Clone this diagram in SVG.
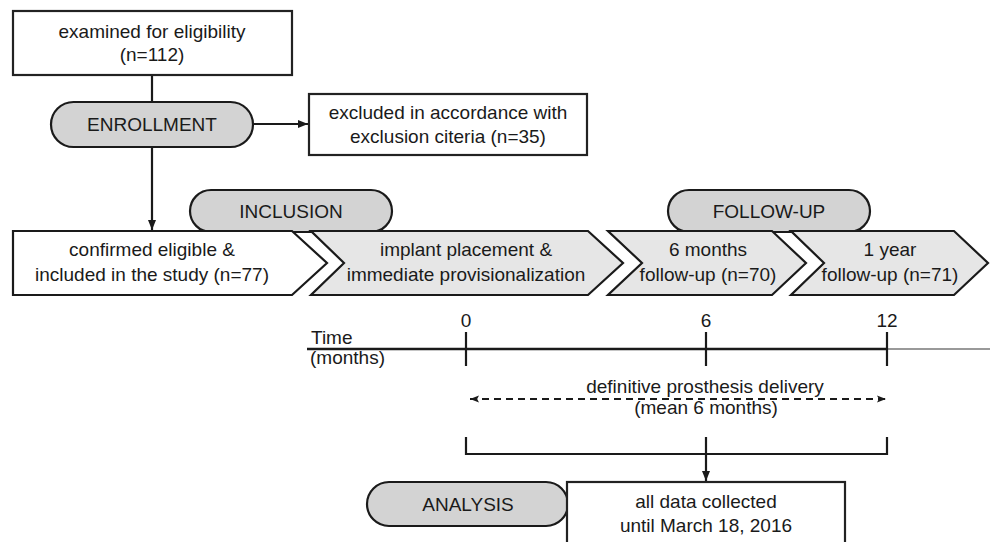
<svg xmlns="http://www.w3.org/2000/svg" width="990" height="542" viewBox="0 0 990 542">
<defs>
<style>
text{font-family:"Liberation Sans",Arial,sans-serif;font-size:19px;fill:#1a1a1a;text-anchor:middle}
.box{fill:#fff;stroke:#222;stroke-width:2.2}
.pill{fill:#d3d3d3;stroke:#1a1a1a;stroke-width:2.2}
.chev{fill:#e6e6e6;stroke:#1a1a1a;stroke-width:2.2;stroke-linejoin:miter}
.chevw{fill:#fff;stroke:#1a1a1a;stroke-width:2.2}
.ln{stroke:#1a1a1a;stroke-width:2.2;fill:none}
.tick{stroke:#1a1a1a;stroke-width:2.2}
</style>
<marker id="arr" viewBox="0 0 10 8" refX="10" refY="4" markerWidth="10" markerHeight="8" markerUnits="userSpaceOnUse" orient="auto">
<path d="M0,0 L10,4 L0,8 Z" fill="#1a1a1a"/>
</marker>
<marker id="arrs" viewBox="0 0 10 8" refX="10" refY="4" markerWidth="9" markerHeight="8" markerUnits="userSpaceOnUse" orient="auto-start-reverse">
<path d="M0,0 L10,4 L0,8 L2,4 Z" fill="#1a1a1a"/>
</marker>
</defs>
<rect width="990" height="542" fill="#fff"/>

<g id="connectors">
<line class="ln" x1="152" y1="75" x2="152" y2="102"/>
<line class="ln" x1="152" y1="147" x2="152" y2="230" marker-end="url(#arr)"/>
<line class="ln" x1="253" y1="124" x2="308" y2="124" marker-end="url(#arr)"/>
<line class="ln" x1="706" y1="454" x2="706" y2="481" marker-end="url(#arr)"/>
</g>

<g id="examined">
<rect class="box" x="13" y="11" width="279" height="64"/>
<text x="152" y="38">examined for eligibility</text>
<text x="152" y="61">(n=112)</text>
</g>

<g id="enrollment">
<rect class="pill" x="51" y="102" width="202" height="45" rx="22.5"/>
<text x="152" y="131">ENROLLMENT</text>
</g>

<g id="excluded">
<rect class="box" x="309" y="94" width="278" height="61"/>
<text x="448" y="119">excluded in accordance with</text>
<text x="448" y="143">exclusion citeria (n=35)</text>
</g>

<g id="inclusion">
<rect class="pill" x="190" y="190" width="202" height="42" rx="21"/>
<text x="291" y="218">INCLUSION</text>
</g>

<g id="followup">
<rect class="pill" x="668" y="190" width="202" height="42" rx="21"/>
<text x="769" y="218">FOLLOW-UP</text>
</g>

<g id="confirmed">
<polygon class="chevw" points="13,231 292,231 327,263 292,295 13,295"/>
<text x="152" y="256">confirmed eligible &amp;</text>
<text x="152" y="281">included in the study (n=77)</text>
</g>

<g id="implant">
<polygon class="chev" points="311,231 588,231 623,263 588,295 311,295 344,263"/>
<text x="466" y="256">implant placement &amp;</text>
<text x="466" y="281">immediate provisionalization</text>
</g>

<g id="sixmonths">
<polygon class="chev" points="608,231 772,231 806,263 772,295 608,295 642,263"/>
<text x="708" y="256">6 months</text>
<text x="708" y="281">follow-up (n=70)</text>
</g>

<g id="oneyear">
<polygon class="chev" points="791,231 954,231 988,263 954,295 791,295 824,263"/>
<text x="890" y="256">1 year</text>
<text x="890" y="281">follow-up (n=71)</text>
</g>

<g id="timeline">
<line x1="887" y1="349" x2="990" y2="349" stroke="#999" stroke-width="2.2"/>
<line x1="307" y1="349" x2="888" y2="349" stroke="#1a1a1a" stroke-width="2.6"/>
<line class="tick" x1="466" y1="332" x2="466" y2="366"/>
<line class="tick" x1="706" y1="332" x2="706" y2="366"/>
<line class="tick" x1="887" y1="332" x2="887" y2="366"/>
<text x="466" y="327">0</text>
<text x="706" y="327">6</text>
<text x="887" y="327">12</text>
<text x="311" y="344" style="text-anchor:start">Time</text>
<text x="310" y="364" style="text-anchor:start">(months)</text>
</g>

<g id="delivery">
<line x1="470" y1="399" x2="886" y2="399" stroke="#1a1a1a" stroke-width="2" stroke-dasharray="7,5" marker-start="url(#arrs)" marker-end="url(#arrs)"/>
<text x="705" y="393">definitive prosthesis delivery</text>
<text x="706" y="414">(mean 6 months)</text>
</g>

<g id="bracket">
<path class="ln" d="M466,437 V454 H887 V437 M706,437 V454"/>
</g>

<g id="analysis">
<rect class="pill" x="367" y="482" width="201" height="44" rx="22"/>
<text x="468" y="511">ANALYSIS</text>
</g>

<g id="datacollected">
<rect class="box" x="567" y="482" width="278" height="70"/>
<text x="706" y="508">all data collected</text>
<text x="706" y="532">until March 18, 2016</text>
</g>
</svg>
